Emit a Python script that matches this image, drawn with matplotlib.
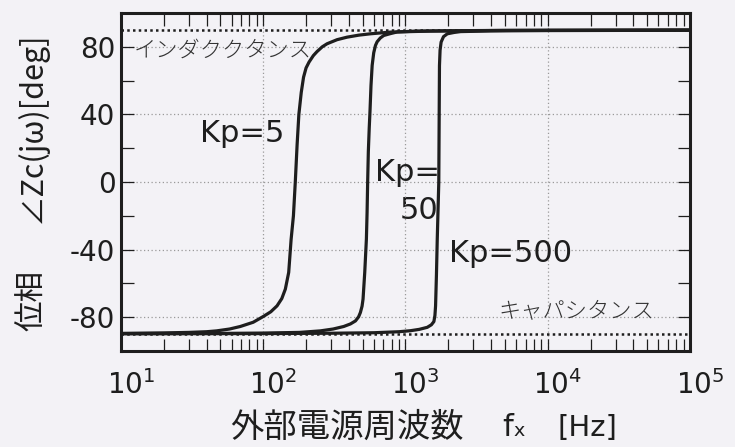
#!/usr/bin/env python3

import matplotlib
matplotlib.use('Agg')
import matplotlib.pyplot as plt
import matplotlib.ticker as mticker
from matplotlib.transforms import ScaledTranslation

# Phase of Zc(jw): frequency [Hz] and phase [deg]
f_kp5 = [10, 20, 30, 40, 47, 58, 69, 85, 100, 113, 125, 135, 143, 151, 157, 163, 168, 173, 178,
         185, 192, 200, 210, 225, 239, 260, 281, 330, 388, 470, 567, 783, 1500, 5000, 1e5]
ph_kp5 = [-89.6, -89.3, -89.0, -88.6, -88.1, -87.0, -85.5, -83.0, -79.6, -76.8, -73.3, -69.0, -63.4,
          -53.5, -34.0, -20.0, 0.0, 22.0, 40.0, 53.0, 62.0, 67.5, 71.0, 74.8, 77.2, 80.0, 81.8, 84.2,
          85.7, 86.9, 87.7, 88.7, 89.3, 89.7, 89.9]

f_kp50 = [10, 50, 100, 180, 252, 310, 368, 410, 445, 468, 482, 495, 503, 517, 531, 537, 542, 548,
          556, 563, 572, 583, 598, 615, 632, 665, 703, 783, 875, 1200, 3000, 1e4, 1e5]
ph_kp50 = [-89.7, -89.6, -89.4, -89.0, -88.1, -87.0, -85.5, -84.0, -82.2, -79.8, -77.2, -73.5, -69.3,
           -53.5, -33.8, -18.0, 0.0, 18.0, 32.0, 42.0, 57.0, 69.0, 76.5, 80.8, 83.0, 85.2, 86.7, 87.8,
           88.8, 89.3, 89.6, 89.8, 89.9]

f_kp500 = [10, 100, 300, 600, 900, 1084, 1250, 1422, 1520, 1583, 1610, 1627, 1650, 1672, 1714, 1725,
           1733, 1750, 1780, 1850, 1968, 2200, 2440, 4000, 1e4, 1e5]
ph_kp500 = [-89.8, -89.7, -89.5, -89.2, -88.6, -88.0, -87.2, -86.0, -84.5, -82.6, -79.0, -73.3, -55.0,
            -33.8, 0.0, 40.0, 68.9, 78.0, 82.8, 86.0, 87.7, 88.5, 89.0, 89.4, 89.6, 89.8]

asymptotes = [90, -90]
y_major = [-80, -40, 0, 40, 80]
y_minor = [-100, -60, -20, 20, 60, 100]

plt.rcParams['axes.unicode_minus'] = False

bg = '#f3f2f6'
ink = '#1e1e1e'
jp = ['Noto Sans CJK JP', 'DejaVu Sans']

fig = plt.figure(figsize=(7.35, 4.47), dpi=100, facecolor=bg)
ax = fig.add_axes([0.1646, 0.2148, 0.7742, 0.7561], facecolor=bg)

for yv in asymptotes:
    ax.axhline(yv, color=ink, lw=1.8, ls=(0, (1, 1.3)), zorder=2)

for f, ph in [(f_kp5, ph_kp5), (f_kp50, ph_kp50), (f_kp500, ph_kp500)]:
    ax.plot(f, ph, color=ink, lw=2.3, solid_joinstyle='round', solid_capstyle='round', zorder=3)

ax.set_xscale('log')
ax.set_xlim(10, 1e5)
ax.set_ylim(-100, 100)

ax.xaxis.set_major_locator(mticker.LogLocator(base=10, numticks=10))
ax.xaxis.set_minor_locator(mticker.LogLocator(base=10, subs=range(2, 10), numticks=10))
ax.xaxis.set_minor_formatter(mticker.NullFormatter())
ax.set_yticks(y_major)
ax.set_yticks(y_minor, minor=True)

ax.tick_params(which='both', direction='in', top=True, right=True, length=9, width=0.9, color=ink)
ax.tick_params(axis='x', which='major', labelsize=20, pad=14, labelcolor=ink)
ax.tick_params(axis='y', which='major', labelsize=20, pad=4, labelcolor=ink)
for s in ax.spines.values():
    s.set_linewidth(2.2)
    s.set_color(ink)

ax.grid(which='major', color='#9a9a9a', lw=0.9, ls=(0, (1, 2)))

# labels under the ticks sit a bit to the right in the original
shift = ScaledTranslation(0.10, 0, fig.dpi_scale_trans)
for lab in ax.get_xticklabels():
    lab.set_transform(lab.get_transform() + shift)

# curve labels
ax.text(36, 23.7, 'Kp=5', fontsize=22, color=ink, va='baseline')
ax.text(615, 0.6, 'Kp=', fontsize=22, color=ink, va='baseline')
ax.text(908, -21.9, '50', fontsize=22, color=ink, va='baseline', zorder=1)
ax.text(2010, -47.4, 'Kp=500', fontsize=22, color=ink, va='baseline')

ax.text(12.2, 77.6, 'インダククタンス', family=jp, fontsize=16, fontweight='light',
        color='#333333', va='center')
ax.text(4520, -76.4, 'キャパシタンス', family=jp, fontsize=16, fontweight='light',
        color='#333333', va='center')

# axis titles
fig.text(0.044, 0.327, '位相', family=jp, fontsize=22, rotation=90, ha='center', va='center', color=ink)
fig.text(0.044, 0.715, '∠Zc(jω)[deg]', family=jp, fontsize=22, rotation=90, ha='center', va='center',
         color=ink)

fig.text(0.313, 0.043, '外部電源周波数', family=jp, fontsize=24, ha='left', va='center', color=ink)
fig.text(0.683, 0.043, 'fₓ', family=['DejaVu Sans'], fontsize=22, ha='left', va='center', color=ink)
fig.text(0.758, 0.043, '[Hz]', family=['DejaVu Sans'], fontsize=21, ha='left', va='center', color=ink)

fig.savefig('out.png', dpi=100, facecolor=bg)
